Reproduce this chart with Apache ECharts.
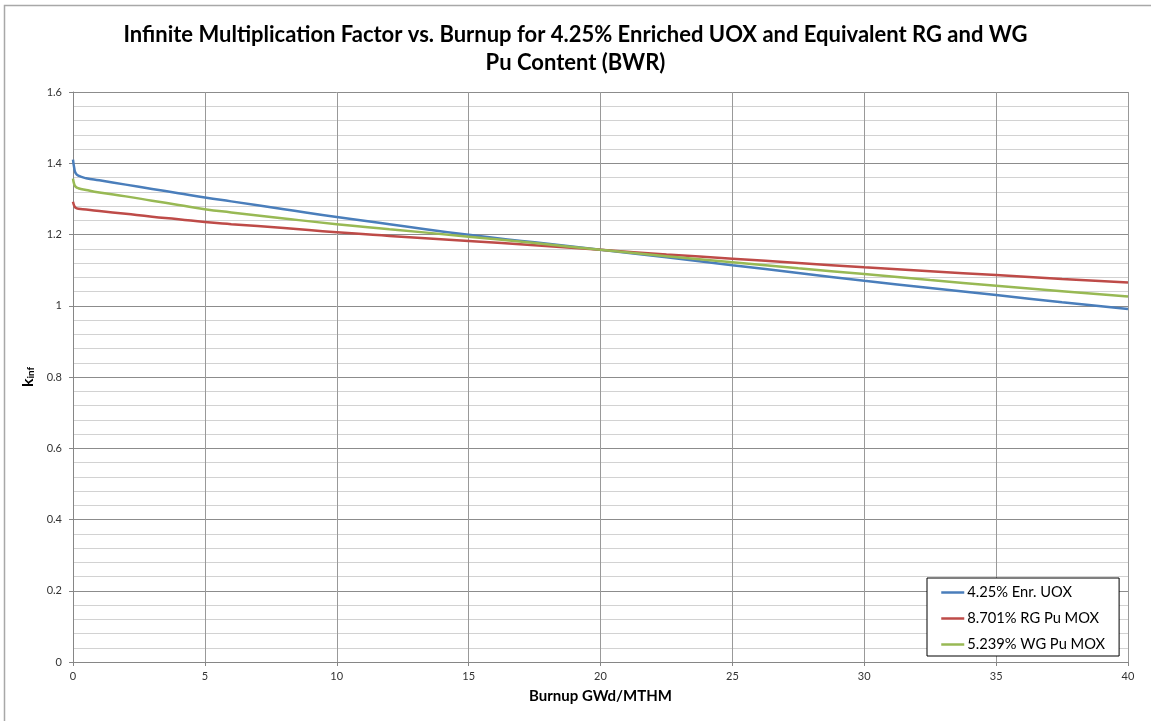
<!DOCTYPE html>
<html>
<head>
<meta charset="utf-8">
<script src="https://cdn.jsdelivr.net/npm/echarts@6/dist/echarts.min.js"></script>
<style>html,body{margin:0;padding:0;background:#fff}#c{width:1151px;height:721px}</style>
</head>
<body>
<div id="c"></div>
<script>
const burnup = [0, 0.05, 0.1, 0.2, 0.5, 1, 2, 3, 4, 5, 6, 8, 10, 12, 15, 17.5, 20, 22.5, 25, 27.5, 30, 32.5, 35, 37.5, 40];
const uox  = [1.410, 1.385, 1.372, 1.365, 1.358, 1.352, 1.340, 1.328, 1.316, 1.304, 1.293, 1.271, 1.249, 1.229, 1.199, 1.178, 1.157, 1.136, 1.114, 1.092, 1.070, 1.050, 1.030, 1.010, 0.991];
const rgMox = [1.292, 1.280, 1.275, 1.272, 1.270, 1.266, 1.258, 1.250, 1.243, 1.235, 1.229, 1.218, 1.206, 1.196, 1.182, 1.170, 1.157, 1.144, 1.132, 1.120, 1.108, 1.097, 1.086, 1.075, 1.065];
const wgMox = [1.357, 1.340, 1.334, 1.330, 1.325, 1.318, 1.307, 1.295, 1.283, 1.271, 1.262, 1.245, 1.229, 1.215, 1.194, 1.176, 1.157, 1.139, 1.122, 1.105, 1.089, 1.072, 1.056, 1.041, 1.026];
const seriesNames = ['4.25% Enr. UOX', '8.701% RG Pu MOX', '5.239% WG Pu MOX'];
const seriesColors = ['#4a7ebb', '#be4b48', '#98b954'];
const titleText = 'Infinite Multiplication Factor vs. Burnup for 4.25% Enriched UOX and Equivalent RG and WG\nPu Content (BWR)';

const pair = ys => burnup.map((x, i) => [x, ys[i]]);
const FONT = 'Lato, "Liberation Sans", sans-serif';
const chart = echarts.init(document.getElementById('c'));
const mk = (i, ys) => ({
  name: seriesNames[i], type: 'line', data: pair(ys), symbol: 'none', smooth: true,
  lineStyle: { color: seriesColors[i], width: 2.5 }, itemStyle: { color: seriesColors[i] }
});
chart.setOption({
  animation: false,
  backgroundColor: '#fff',
  graphic: [{ type: 'rect', shape: { x: 4.5, y: 5.5, width: 1300, height: 900 },
    style: { fill: 'none', stroke: '#a8a8a8', lineWidth: 1.5 }, silent: true }],
  title: {
    text: titleText, left: 'center', top: 16,
    textStyle: { fontFamily: FONT, fontSize: 22, fontWeight: 'bold', color: '#000', lineHeight: 28 }
  },
  legend: {
    orient: 'vertical', left: 927, top: 578,
    padding: [7, 14, 4, 13], itemGap: 11, itemWidth: 23, itemHeight: 14,
    borderColor: '#000', borderWidth: 1, backgroundColor: '#fff',
    itemStyle: { opacity: 0 },
    lineStyle: { width: 2.5 },
    textStyle: { fontFamily: FONT, fontSize: 14.7, color: '#000', padding: [0, 0, 0, -2] },
    data: seriesNames
  },
  grid: { left: 73, right: 23, top: 92, bottom: 59, containLabel: false },
  xAxis: {
    type: 'value', min: 0, max: 40, interval: 5,
    name: 'Burnup GWd/MTHM', nameLocation: 'middle', nameGap: 27,
    nameTextStyle: { fontFamily: FONT, fontSize: 15, fontWeight: 'bold', color: '#000' },
    axisLine: { show: true, lineStyle: { color: '#868686', width: 1 } },
    axisTick: { show: true, length: 4, lineStyle: { color: '#868686' } },
    axisLabel: { fontFamily: FONT, fontSize: 11, color: '#333', margin: 9 },
    splitLine: { show: true, lineStyle: { color: '#999', width: 1 } }
  },
  yAxis: {
    type: 'value', min: 0, max: 1.6, interval: 0.2,
    name: '{k|k}{s|inf}', nameLocation: 'middle', nameGap: 30, nameRotate: 90,
    nameTextStyle: { rich: {
      k: { fontFamily: FONT, fontSize: 16, fontWeight: 'bold', color: '#000' },
      s: { fontFamily: FONT, fontSize: 10, fontWeight: 'bold', color: '#000', verticalAlign: 'bottom', padding: [6, 0, 0, 0] }
    } },
    axisLine: { show: true, lineStyle: { color: '#868686', width: 1 } },
    axisTick: { show: true, length: 4, lineStyle: { color: '#868686' } },
    axisLabel: { fontFamily: FONT, fontSize: 11, color: '#333', margin: 11 },
    splitLine: { show: true, lineStyle: { color: '#8c8c8c', width: 1 } },
    minorTick: { show: false, splitNumber: 5 },
    minorSplitLine: { show: true, lineStyle: { color: '#d2d2d2', width: 1 } }
  },
  series: [mk(0, uox), mk(1, rgMox), mk(2, wgMox)]
});
</script>
</body>
</html>
